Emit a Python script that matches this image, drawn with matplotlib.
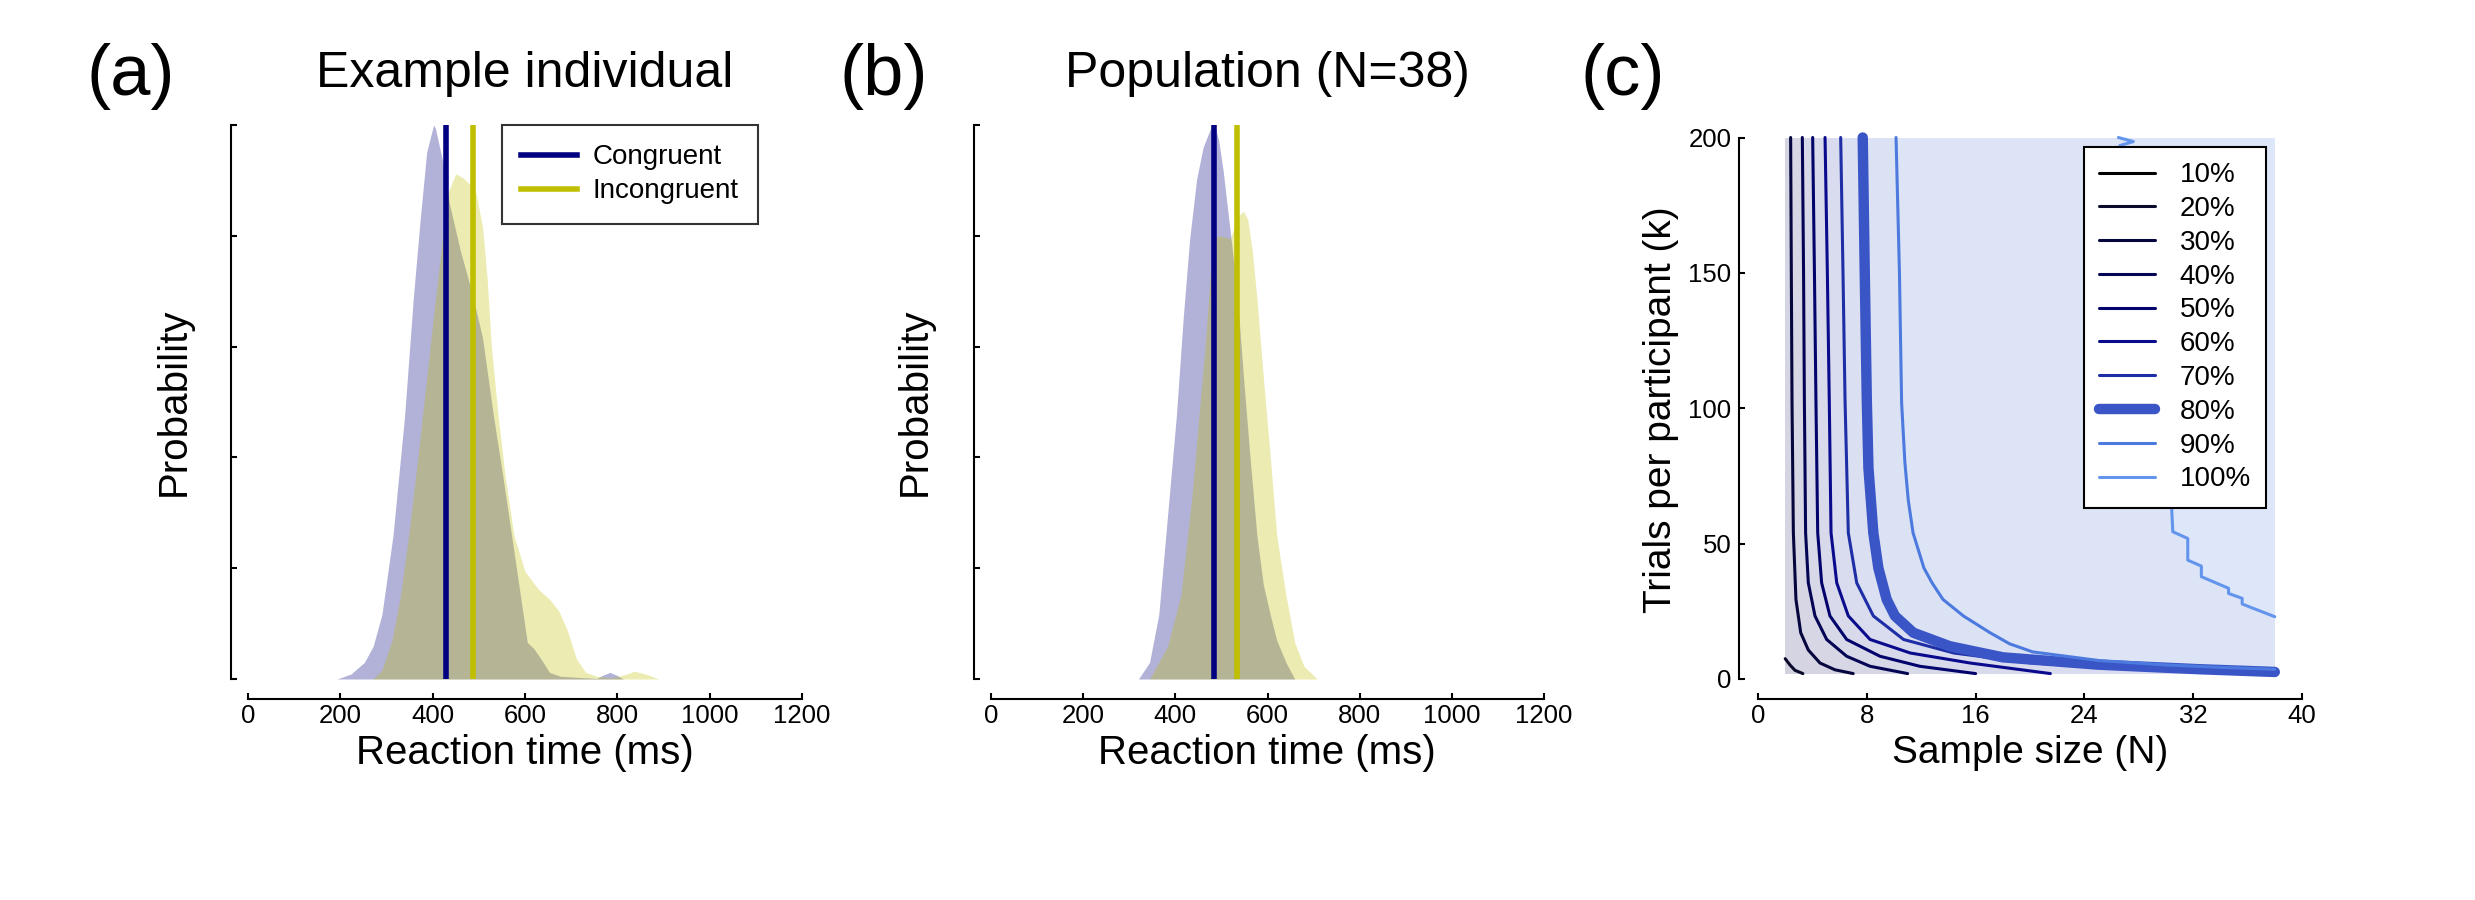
import matplotlib.pyplot as plt
from matplotlib.lines import Line2D

plt.rcParams['font.family'] = ['Liberation Sans', 'DejaVu Sans']

# ---- (a) example individual: densities (peak = 1) ----
a_cong_rt = [193, 223, 252, 271, 290, 314, 339, 358, 373, 387, 402, 406, 421, 436, 460, 484,
             508, 532, 552, 571, 590, 605, 619, 634, 653, 677, 716, 755, 769, 784, 798, 813]
a_cong_p = [0, 0.009, 0.03, 0.059, 0.116, 0.259, 0.473, 0.687, 0.83, 0.951, 1.0, 0.994, 0.937,
            0.859, 0.773, 0.701, 0.616, 0.473, 0.366, 0.259, 0.151, 0.066, 0.055, 0.037, 0.012,
            0.005, 0.003, 0.001, 0.007, 0.012, 0.007, 0]
a_incong_rt = [271, 290, 312, 330, 348, 368, 387, 406, 421, 434, 450, 465, 479, 494, 508, 518,
               527, 542, 557, 576, 600, 629, 653, 673, 692, 711, 731, 755, 784, 813, 837, 861, 890]
a_incong_p = [0, 0.016, 0.07, 0.15, 0.26, 0.401, 0.544, 0.687, 0.794, 0.88, 0.912, 0.905, 0.894,
              0.876, 0.816, 0.723, 0.601, 0.473, 0.366, 0.259, 0.194, 0.162, 0.144, 0.123, 0.087,
              0.037, 0.012, 0.005, 0.002, 0.007, 0.014, 0.009, 0]
a_means = [428.7, 487.7]

# ---- (b) population ----
b_cong_rt = [320, 344, 364, 383, 402, 417, 431, 446, 460, 475, 485, 494, 504, 514, 523, 535,
             548, 562, 577, 591, 606, 620, 640, 659]
b_cong_p = [0, 0.03, 0.116, 0.294, 0.473, 0.651, 0.794, 0.901, 0.959, 0.991, 1.0, 0.973, 0.916,
            0.844, 0.78, 0.687, 0.544, 0.401, 0.259, 0.17, 0.116, 0.07, 0.03, 0]
b_incong_rt = [344, 383, 412, 436, 451, 466, 475, 485, 494, 509, 519, 528, 538, 548, 557, 567,
               577, 591, 606, 620, 640, 659, 679, 708]
b_incong_p = [0, 0.059, 0.151, 0.33, 0.473, 0.616, 0.723, 0.794, 0.8, 0.798, 0.794, 0.816, 0.837,
              0.844, 0.83, 0.773, 0.687, 0.544, 0.401, 0.259, 0.151, 0.066, 0.023, 0]
b_means = [483.7, 534.0]

cond_labels = ['Congruent', 'Incongruent']
rt_ticks = [0, 200, 400, 600, 800, 1000, 1200]

# ---- (c) power contours: sample size N vs trials per participant k ----
power_labels = ['10%', '20%', '30%', '40%', '50%', '60%', '70%', '80%', '90%', '100%']
grid_n = [2, 38]
grid_k = [2, 200]
p20_n = [2.0, 2.35, 2.72, 3.3]
p20_k = [7.5, 5.2, 3.2, 2.0]
p30_n = [2.40, 2.45, 2.5, 2.6, 2.79, 3.14, 3.7, 4.56, 5.66, 7.0]
p30_k = [200, 150, 103, 54, 29.4, 17.1, 10.7, 5.9, 3.4, 2.0]
p40_n = [3.26, 3.35, 3.41, 3.5, 3.7, 4.19, 5.05, 6.52, 8.24, 11.0]
p40_k = [200, 150, 103, 54, 35.5, 23.3, 14.6, 8.4, 4.7, 2.0]
p50_n = [4.02, 4.15, 4.26, 4.39, 4.68, 5.29, 6.52, 8.97, 11.9, 16.0]
p50_k = [200, 150, 103, 54, 35.5, 23.3, 14.6, 8.4, 4.7, 2.0]
p60_n = [4.93, 5.1, 5.24, 5.37, 5.79, 6.64, 8.24, 11.2, 15.6, 21.5]
p60_k = [200, 150, 103, 54, 35.5, 23.3, 14.6, 9.6, 5.9, 2.0]
p70_n = [6.08, 6.25, 6.4, 6.64, 7.26, 8.48, 10.7, 14.4, 20, 26, 32, 38]
p70_k = [200, 150, 103, 54, 35.5, 23.3, 14.6, 9.6, 6.0, 4.0, 2.9, 2.3]
p80_n = [7.7, 7.85, 8.0, 8.12, 8.48, 8.85, 9.46, 10.07, 11.42, 14.1, 18, 25, 32.5, 38]
p80_k = [200, 150, 103, 78, 54, 41, 29.4, 23.3, 17.1, 12.1, 8.0, 5.3, 3.6, 2.6]
p90_n = [10.15, 10.4, 10.56, 10.8, 11.05, 11.4, 12.2, 12.8, 13.6, 15.1, 17.06, 18.5, 20.2, 25.1,
         30, 34, 38]
p90_k = [200, 150, 102, 80, 66, 54, 41, 35.5, 29.4, 23.3, 17.1, 13, 10, 6.8, 5.2, 4.3, 3.6]
p100_n = [26.5, 27.6, 26.6, 27.6, 28.6, 29.6, 30.4, 30.5, 31.6, 31.6, 32.6, 32.6, 34.6, 34.6,
          35.6, 35.6, 38]
p100_k = [200, 198.5, 197, 175, 140, 100, 64.8, 54.4, 51.9, 43.9, 41.7, 37.8, 33.5, 31.6,
          29.8, 27.7, 23]
n_ticks = [0, 8, 16, 24, 32, 40]
k_ticks = [0, 50, 100, 150, 200]

curves = [None, (p20_n, p20_k), (p30_n, p30_k), (p40_n, p40_k), (p50_n, p50_k), (p60_n, p60_k),
          (p70_n, p70_k), (p80_n, p80_k), (p90_n, p90_k), (p100_n, p100_k)]

NAVY = '#000080'
OLIVE = '#bfbf00'
line_colors = ['#000000', '#0a0a2c', '#06063e', '#040454', '#03036c', '#0a0a8c', '#1e2ea6',
               '#3a55c6', '#4d7ade', '#6495ed']
line_widths = [2.2] * 7 + [7.5, 2.2, 2.2]
# fill colour of the region left of each contour (darker towards small N)
fill_colors = ['#d2d2de', '#d4d4e2', '#d6d6e5', '#d7d8e8', '#d8daeb', '#d9dcee', '#dadff1',
               '#dbe2f4', '#dce4f6', '#dde6f8']
base_color = '#dee7f9'

W, H = 2475, 900
fig = plt.figure(figsize=(W / 100, H / 100), dpi=100)


def style(ax, left_out=12, bottom_out=14.4):
    for s in ['top', 'right']:
        ax.spines[s].set_visible(False)
    ax.spines['left'].set_position(('outward', left_out))
    ax.spines['bottom'].set_position(('outward', bottom_out))
    for s in ['left', 'bottom']:
        ax.spines[s].set_linewidth(1.5)
    ax.tick_params(direction='in', length=4.5, width=1.5, labelsize=18.5)
    ax.tick_params(axis='x', pad=3.5)
    ax.tick_params(axis='y', pad=5.5)


def density_panel(ax, cong_rt, cong_p, inc_rt, inc_p, means):
    ax.fill_between(cong_rt, 0, cong_p, color=NAVY, alpha=0.3, lw=0)
    ax.fill_between(inc_rt, 0, inc_p, color=OLIVE, alpha=0.3, lw=0)
    ax.plot([means[0], means[0]], [0, 1], color=NAVY, lw=4, solid_capstyle='butt')
    ax.plot([means[1], means[1]], [0, 1], color=OLIVE, lw=4, solid_capstyle='butt')
    ax.set_xlim(0, 1200)
    ax.set_ylim(0, 1)
    ax.set_xticks(rt_ticks)
    ax.set_yticks([0, 0.2, 0.4, 0.6, 0.8, 1.0])
    ax.set_yticklabels([])
    style(ax)


ax_a = fig.add_axes([248 / W, 1 - 679 / H, 554 / W, 554 / H])
density_panel(ax_a, a_cong_rt, a_cong_p, a_incong_rt, a_incong_p, a_means)
ax_b = fig.add_axes([991 / W, 1 - 679 / H, 553 / W, 554 / H])
density_panel(ax_b, b_cong_rt, b_cong_p, b_incong_rt, b_incong_p, b_means)

handles = [Line2D([], [], color=NAVY, lw=4), Line2D([], [], color=OLIVE, lw=4)]
leg = ax_a.legend(handles, cond_labels, loc='upper left', bbox_to_anchor=(502 / W, 1 - 125 / H),
                  bbox_transform=fig.transFigure, fontsize=20, frameon=True, fancybox=False,
                  borderpad=0.7, labelspacing=0.28, handlelength=2.0, handletextpad=0.55,
                  borderaxespad=0)
leg.get_frame().set_edgecolor('black')
leg.get_frame().set_linewidth(1.5)

# ---- (c) ----
ax_c = fig.add_axes([1758 / W, 1 - 679 / H, 544 / W, 541.5 / H])
ax_c.fill([grid_n[0], grid_n[1], grid_n[1], grid_n[0]],
          [grid_k[0], grid_k[0], grid_k[1], grid_k[1]], color=base_color, lw=0)
for i in range(len(curves) - 1, 0, -1):
    n, k = curves[i]
    pn, pk = list(n), list(k)
    if n[-1] >= grid_n[1]:
        pn.append(grid_n[1])
        pk.append(grid_k[0])
    pn += [grid_n[0], grid_n[0]]
    pk += [grid_k[0], grid_k[1]]
    ax_c.fill(pn, pk, color=fill_colors[i - 1], lw=0)
for i in range(1, len(curves)):
    n, k = curves[i]
    ax_c.plot(n, k, color=line_colors[i], lw=line_widths[i], solid_capstyle='round',
              solid_joinstyle='round', clip_on=False)
ax_c.set_xlim(0, 40)
ax_c.set_ylim(0, 200)
ax_c.set_xticks(n_ticks)
ax_c.set_yticks(k_ticks)
style(ax_c, left_out=13.7)

c_handles = [Line2D([], [], color=line_colors[i], lw=line_widths[i], solid_capstyle='round')
             for i in range(len(power_labels))]
leg_c = ax_c.legend(c_handles, power_labels, loc='upper left',
                    bbox_to_anchor=(2084 / W, 1 - 147 / H), bbox_transform=fig.transFigure,
                    fontsize=20, frameon=True, fancybox=False, framealpha=1,
                    borderpad=0.55, labelspacing=0.28, handlelength=2.0, handletextpad=0.9,
                    borderaxespad=0)
leg_c.get_frame().set_edgecolor('black')
leg_c.get_frame().set_linewidth(1.5)
leg_c.set_zorder(5)

# ---- text ----
for x, s in [(131, '(a)'), (884, '(b)'), (1623, '(c)')]:
    fig.text(x / W, 1 - 76 / H, s, fontsize=52, ha='center', va='center')
fig.text(525 / W, 1 - 74 / H, 'Example individual', fontsize=36, ha='center', va='center')
fig.text(1267 / W, 1 - 74 / H, 'Population (N=38)', fontsize=36, ha='center', va='center')
fig.text(525 / W, 1 - 753 / H, 'Reaction time (ms)', fontsize=29, ha='center', va='center')
fig.text(1267 / W, 1 - 753 / H, 'Reaction time (ms)', fontsize=29, ha='center', va='center')
fig.text(2030 / W, 1 - 753 / H, 'Sample size (N)', fontsize=28, ha='center', va='center')
fig.text(174 / W, 1 - 402 / H, 'Probability', fontsize=29, ha='center', va='center', rotation=90)
fig.text(915 / W, 1 - 402 / H, 'Probability', fontsize=29, ha='center', va='center', rotation=90)
fig.text(1661 / W, 1 - 410 / H, 'Trials per participant (k)', fontsize=28, ha='center',
         va='center', rotation=90)

fig.savefig('out.png', dpi=100)
